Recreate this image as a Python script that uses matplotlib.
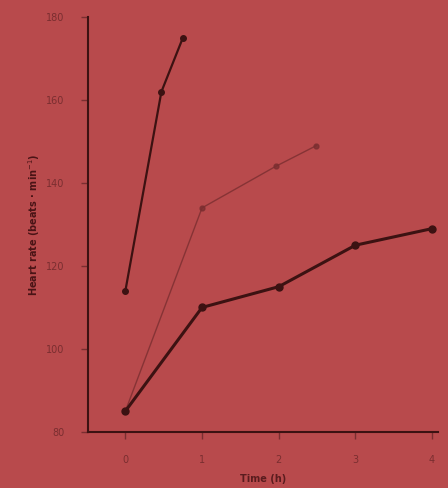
import matplotlib.pyplot as plt

# Heart rate over time for three groups
time_a = [0, 0.47, 0.75]
rate_a = [114, 162, 175]

time_b = [0, 1, 1.96, 2.49]
rate_b = [85, 134, 144, 149]

time_c = [0, 1, 2, 3, 4]
rate_c = [85, 110, 115, 125, 129]

y_ticks = [80, 100, 120, 140, 160, 180]
x_ticks = [0, 1, 2, 3, 4]

bg = '#b84a4c'
ink = '#3c1212'
faint = '#7a2e30'

fig = plt.figure(figsize=(4.48, 4.88), dpi=100, facecolor=bg)
ax = fig.add_axes([0.196, 0.115, 0.782, 0.85], facecolor=bg)

ax.plot(time_a, rate_a, color=ink, lw=1.6, marker='o', ms=4)
ax.plot(time_b, rate_b, color=faint, lw=1.0, marker='o', ms=3.5, alpha=0.8)
ax.plot(time_c, rate_c, color=ink, lw=2.2, marker='o', ms=5)

ax.set_xlim(-0.49, 4.08)
ax.set_ylim(80, 180)
ax.set_xticks(x_ticks)
ax.set_yticks(y_ticks)

for side in ['top', 'right']:
    ax.spines[side].set_visible(False)
for side in ['left', 'bottom']:
    ax.spines[side].set_color(ink)
    ax.spines[side].set_linewidth(1.5)

ax.tick_params(axis='both', colors=faint, labelsize=7, length=5, width=1)
ax.tick_params(axis='x', pad=12)
ax.tick_params(axis='y', pad=12)
ax.set_xlabel('Time (h)', fontsize=7, color='#5a1c1e', fontweight='bold', labelpad=6)
ax.set_ylabel('Heart rate (beats · min$^{-1}$)', fontsize=7, color='#4a1416',
              fontweight='bold', labelpad=3)

plt.savefig('out.png', dpi=100, facecolor=bg)
